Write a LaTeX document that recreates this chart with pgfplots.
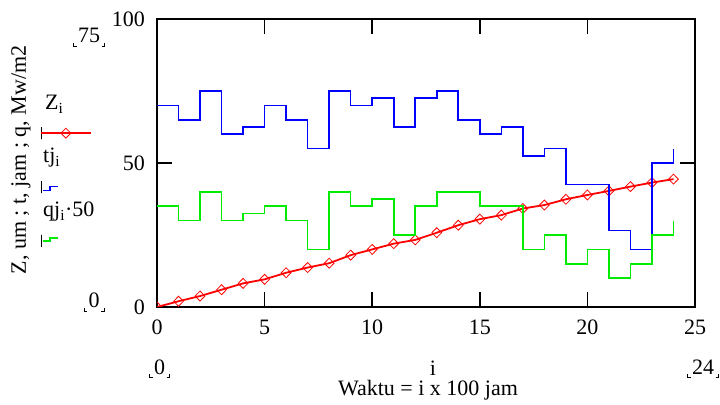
\documentclass[border=0pt]{standalone}
\usepackage{fontspec}
\setmainfont{Liberation Serif}
\usepackage{pgfplots}
\pgfplotsset{compat=1.18}
\definecolor{mcred}{RGB}{255,0,0}
\definecolor{mcblue}{RGB}{0,0,255}
\definecolor{mcgreen}{RGB}{0,235,0}
\newcommand\lmk{\rule[-4bp]{1bp}{4bp}\rule[-4bp]{2.5bp}{1bp}\kern1.5bp}
\newcommand\rmk{\kern1.5bp\rule[-4bp]{2.5bp}{1bp}\rule[-4bp]{1bp}{4bp}}
\newcommand\mcfont{\fontsize{22bp}{26bp}\selectfont}
\begin{document}
\mcfont
\begin{tikzpicture}
\path[use as bounding box] (0bp,0bp) rectangle (720bp,405bp);
\begin{axis}[
  at={(157bp,98bp)}, anchor=south west,
  scale only axis, width=538bp, height=288bp,
  xmin=0, xmax=25, ymin=0, ymax=100,
  xtick={0,5,...,25}, ytick={0,50,100},
  tick pos=both, tick align=inside,
  major tick length=15bp,
  axis line style={line width=1.6bp, black},
  every tick/.style={black, line width=1.6bp},
  /pgf/number format/assume math mode=true,
  tick label style={font=\mcfont},
  xticklabel style={inner sep=0pt, anchor=north, yshift=-13bp},
  yticklabel style={inner sep=0pt, anchor=east, xshift=-12bp},
  clip marker paths=true,
  legend style={at={(axis description cs:-0.2175,0.625)}, anchor=north west,
    draw=none, fill=none, inner sep=0pt, outer sep=0pt,
    row sep=41.5bp, column sep=0pt,
    nodes={inner sep=0pt, outer sep=0pt}},
]
\addplot[mcred, line width=1.8bp, mark=diamond, mark size=5bp,
  mark options={solid, line width=0.8bp, xscale=1.3}, forget plot] table {
x y
0 0
1 2.0
2 3.8
3 6.0
4 8.2
5 9.6
6 11.9
7 13.7
8 15.2
9 18.0
10 20.0
11 22.0
12 23.3
13 25.8
14 28.4
15 30.5
16 31.9
17 34.2
18 35.4
19 37.4
20 38.9
21 40.3
22 41.8
23 43.2
24 44.4
};
\addplot[const plot, mcblue, line width=1.6bp, forget plot] table {
x y
0 70
1 65
2 75
3 60
4 62.5
5 70
6 65
7 55
8 75
9 70
10 72.5
11 62.5
12 72.5
13 75
14 65
15 60
16 62.5
17 52.5
18 55
19 42.5
20 42.5
21 26.5
22 20
23 50
24 55
};
\addplot[const plot, mcgreen, line width=1.6bp, forget plot] table {
x y
0 35
1 30
2 40
3 30
4 32.5
5 35
6 30
7 20
8 40
9 35
10 37.5
11 25
12 35
13 40
14 40
15 35
16 35
17 20
18 25
19 15
20 20
21 10
22 15
23 25
24 30
};
\addlegendimage{legend image code/.code={
  \path (0bp,-6bp) rectangle (0bp,6bp);
  \draw[mcred, line width=1.8bp, mark=diamond, mark size=5bp,
    mark options={solid, line width=0.8bp, xscale=1.3}, mark repeat=2, mark phase=2]
    plot coordinates {(0bp,0bp) (25bp,0bp) (50bp,0bp)};}}
\addlegendentry{\mbox{}}
\addlegendimage{legend image code/.code={
  \path (0bp,-6bp) rectangle (0bp,6bp);
  \draw[mcblue, line width=1.6bp] (2bp,-3.5bp) -- (9bp,-3.5bp) -- (9bp,0.5bp) -- (17bp,0.5bp);}}
\addlegendentry{\mbox{}}
\addlegendimage{legend image code/.code={
  \path (0bp,-6bp) rectangle (0bp,6bp);
  \draw[mcgreen, line width=1.6bp] (2bp,0bp) -- (9bp,0bp) -- (9bp,3bp) -- (17bp,3bp);}}
\addlegendentry{\mbox{}}
\end{axis}
\node[anchor=base west, inner sep=0pt] at (45bp,295bp) {Z\textsubscript{i}};
\node[anchor=base west, inner sep=0pt] at (43bp,242bp) {tj\textsubscript{i}};
\node[anchor=base west, inner sep=0pt] at (43bp,188bp) {qj\textsubscript{i}·50};
\node[rotate=90, anchor=center, inner sep=0pt] at (21bp,245bp) {Z, um ; t, jam ; q, Mw/m2};
\node[anchor=base, inner sep=0pt] at (433bp,30bp) {i};
\node[anchor=base, inner sep=0pt] at (428bp,10bp) {Waktu = i x 100 jam};
\node[anchor=base, inner sep=0pt] at (159.5bp,31bp) {\lmk0\rmk};
\node[anchor=base, inner sep=0pt] at (703bp,31bp) {\lmk24\rmk};
\node[anchor=base, inner sep=0pt] at (89bp,362bp) {\lmk75\rmk};
\node[anchor=base, inner sep=0pt] at (94bp,97bp) {\lmk0\rmk};
\end{tikzpicture}
\end{document}
